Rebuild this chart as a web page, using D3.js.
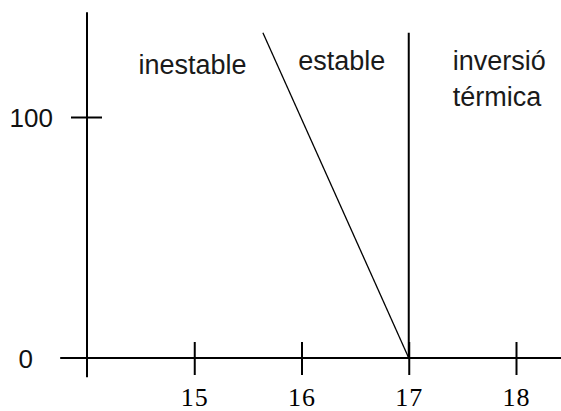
<!DOCTYPE html>
<html>
<head>
<meta charset="utf-8">
<script src="https://cdn.jsdelivr.net/npm/d3@7"></script>
<style>
  body { margin: 0; background: #fff; }
  svg { display: block; }
</style>
</head>
<body>
<svg id="chart" width="561" height="411"></svg>
<script>
// Valors del gràfic
var xTicks = [15, 16, 17, 18];
var yTicks = [0, 100];
var xExtent = [13.75, 18.5];   // abast de l'eix horitzontal
var yExtent = [-8, 143.5];     // abast de l'eix vertical
var stableLine = [[15.64, 135], [17, 0]];   // línia inclinada
var inversionLine = [[17, 135], [17, 0]];  // línia vertical a 17
var regionLabels = [
  { lines: ["inestable"], x: 14.48, y: 118 },
  { lines: ["estable"], x: 15.97, y: 119.5 },
  { lines: ["inversió", "térmica"], x: 17.41, y: 119.5 }
];

var svg = d3.select("#chart");

// Escales
var x = d3.scaleLinear().domain([14, 18]).range([87, 516]);
var y = d3.scaleLinear().domain([0, 100]).range([358, 117]);

// Eix X
var xAxis = svg.append("g")
  .attr("transform", "translate(0," + y(0) + ")")
  .call(d3.axisBottom(x).tickValues(xTicks).tickFormat(d3.format("d"))
    .tickSize(17).tickSizeOuter(0).tickPadding(13));
xAxis.select(".domain").remove();
xAxis.append("line")
  .attr("x1", x(xExtent[0])).attr("x2", x(xExtent[1]))
  .attr("stroke", "#000").attr("stroke-width", 2);
xAxis.selectAll(".tick line").attr("y1", -16).attr("stroke", "#000").attr("stroke-width", 2);
xAxis.selectAll(".tick text")
  .attr("fill", "#000")
  .style("font-family", "'Liberation Serif', 'Times New Roman', serif")
  .style("font-size", "26px")
  .style("letter-spacing", "1px");

// Eix Y
var yAxis = svg.append("g")
  .attr("transform", "translate(" + x(14) + ",0)")
  .call(d3.axisLeft(y).tickValues(yTicks).tickFormat(d3.format("d"))
    .tickSize(16).tickSizeOuter(0).tickPadding(18));
yAxis.select(".domain").remove();
yAxis.append("line")
  .attr("y1", y(yExtent[0])).attr("y2", y(yExtent[1]))
  .attr("stroke", "#000").attr("stroke-width", 2);
yAxis.selectAll(".tick line").attr("x1", -16).attr("x2", 15).attr("stroke", "#000").attr("stroke-width", 2);
// el zero queda a ras de terra, no hi dibuixem tic
yAxis.selectAll(".tick").filter(function(d) { return d === 0; }).select("line").remove();
yAxis.selectAll(".tick text")
  .attr("fill", "#111")
  .attr("dy", "0.36em")
  .attr("x", function(d) { return d === 0 ? -54 : -34; })
  .style("font-family", "'Liberation Sans', Arial, sans-serif")
  .style("font-size", "26px");

// Línies
var line = d3.line().x(function(d) { return x(d[0]); }).y(function(d) { return y(d[1]); });
svg.append("path").datum(stableLine)
  .attr("d", line).attr("fill", "none").attr("stroke", "#000").attr("stroke-width", 1.3);
svg.append("path").datum(inversionLine)
  .attr("d", line).attr("fill", "none").attr("stroke", "#000").attr("stroke-width", 2);

// Etiquetes de zona
regionLabels.forEach(function(d) {
  var t = svg.append("text")
    .attr("x", x(d.x))
    .attr("y", y(d.y))
    .attr("fill", "#1a1a1a")
    .style("font-family", "'Liberation Sans', Arial, sans-serif")
    .style("font-size", "27px");
  d.lines.forEach(function(s, i) {
    t.append("tspan").attr("x", x(d.x)).attr("dy", i === 0 ? 0 : 36).text(s);
  });
});
</script>
</body>
</html>
